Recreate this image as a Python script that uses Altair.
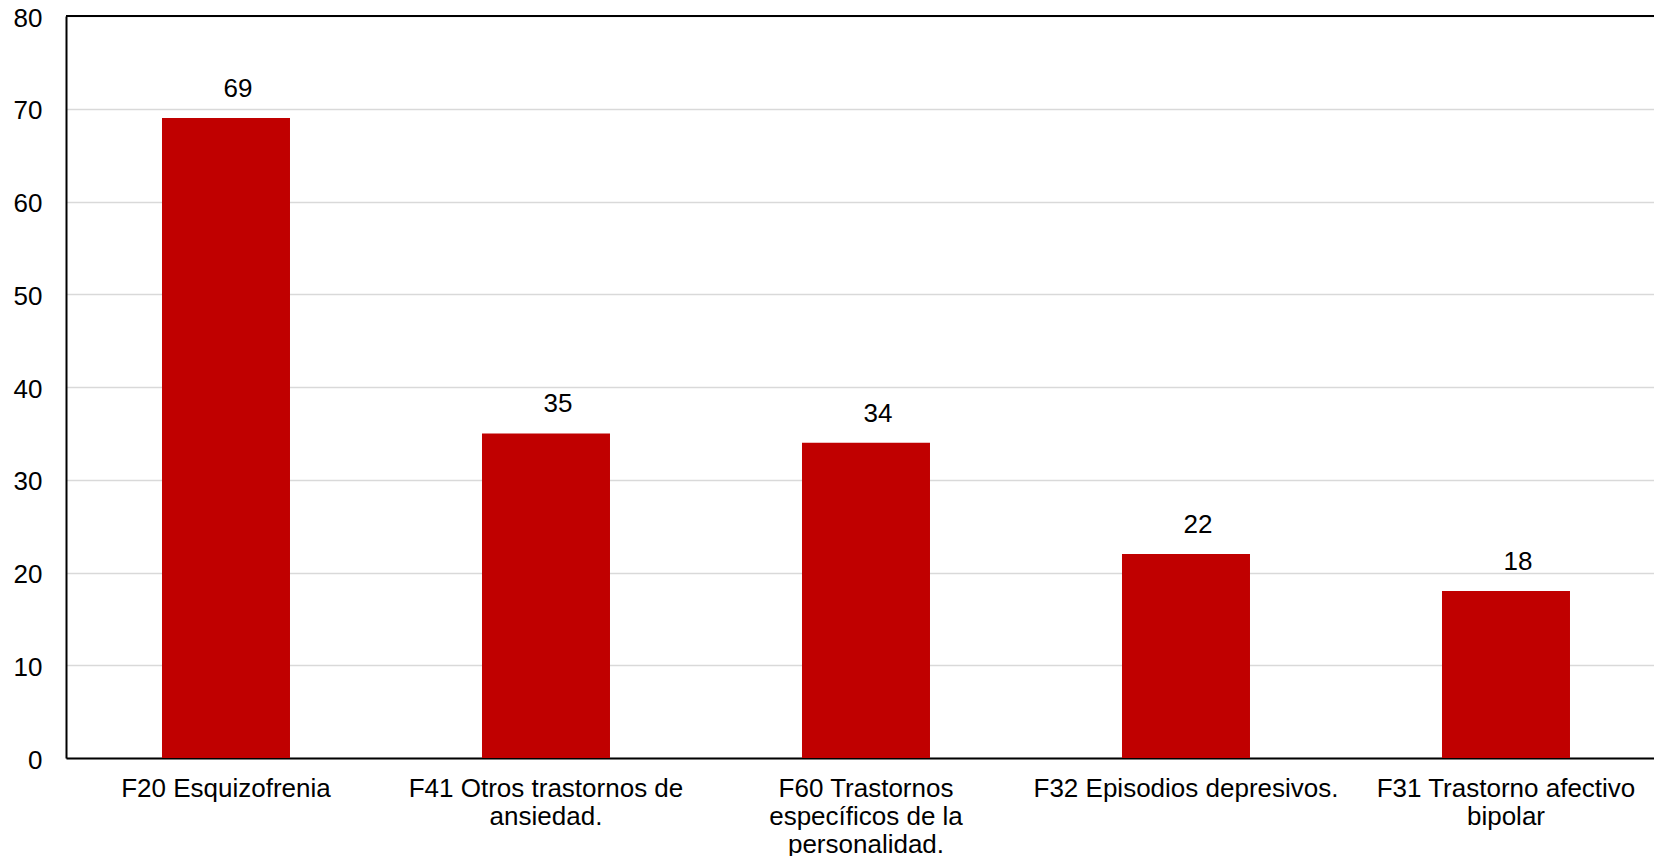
import altair as alt
import pandas as pd

categories = [
    "F20 Esquizofrenia",
    "F41 Otros trastornos de|ansiedad.",
    "F60 Trastornos|específicos de la|personalidad.",
    "F32 Episodios depresivos.",
    "F31 Trastorno afectivo|bipolar",
]
values = [69, 35, 34, 22, 18]
y_ticks = [0, 10, 20, 30, 40, 50, 60, 70, 80]
top_value = [80]

df = pd.DataFrame({"cat": categories, "val": values})
FONT = "Liberation Sans, Arial"

x_scale = alt.Scale(paddingInner=0.6, paddingOuter=0.28125, align=0.5333)
x_enc = alt.X(
    "cat:N",
    sort=categories,
    scale=x_scale,
    axis=alt.Axis(
        title=None, labelAngle=0, ticks=False, tickSize=0, labelPadding=17,
        labelExpr="split(datum.label, '|')", labelFontSize=26, labelFont=FONT,
        labelColor="black", labelLineHeight=28, labelLimit=0, labelBaseline="top",
        domainColor="black", domainWidth=2, grid=False,
    ),
)
y_scale = alt.Scale(domain=[0, 80], nice=False)

bars = alt.Chart(df).mark_bar(color="#c00000").encode(
    x=x_enc,
    y=alt.Y(
        "val:Q", scale=y_scale,
        axis=alt.Axis(
            title=None, values=y_ticks, ticks=False, tickSize=0, labelPadding=24,
            labelFontSize=26, labelFont=FONT, labelColor="black", labelOffset=2,
            domainColor="black", domainWidth=2,
            grid=True, gridColor="#d9d9d9", gridWidth=1.5,
        ),
    ),
)

labels = alt.Chart(df).mark_text(
    baseline="alphabetic", dy=-21, dx=12, fontSize=26, font=FONT, color="black"
).encode(x=alt.X("cat:N", sort=categories, scale=x_scale),
         y=alt.Y("val:Q", scale=y_scale), text="val:Q")

top_rule = alt.Chart(pd.DataFrame({"v": top_value})).mark_rule(
    color="black", strokeWidth=2
).encode(y=alt.Y("v:Q", scale=y_scale))

chart = (
    alt.layer(bars, labels, top_rule)
    .properties(
        width=1588, height=742,
        autosize=alt.AutoSizeParams(type="none"),
        padding={"left": 58, "top": 8, "right": 0, "bottom": 98},
    )
    .configure_view(stroke=None)
    .configure(background="white")
)

chart.save("out.html", embed_options={"renderer": "svg", "actions": False})
